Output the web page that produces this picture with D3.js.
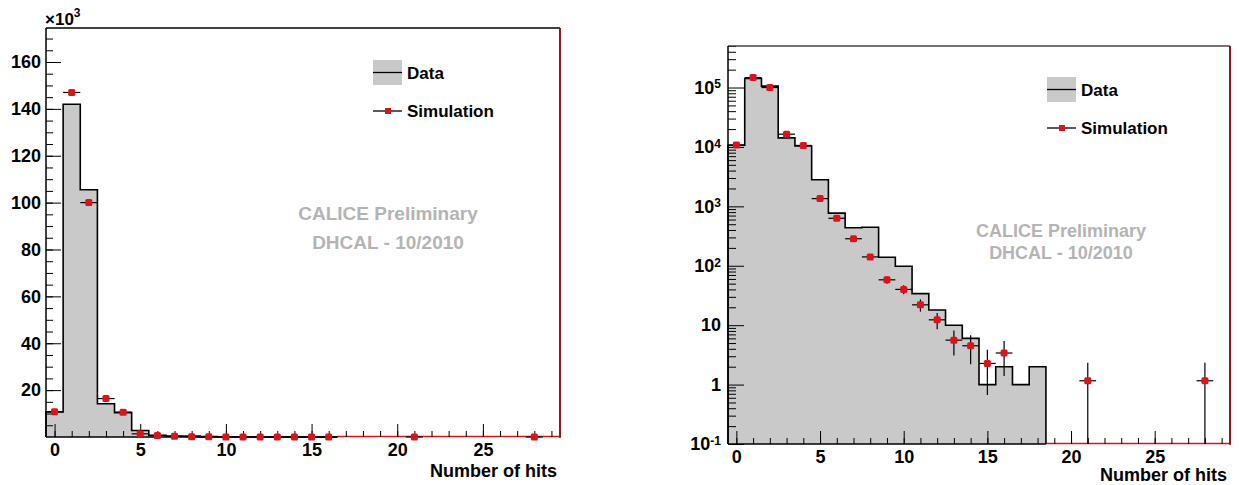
<!DOCTYPE html>
<html>
<head>
<meta charset="utf-8">
<script src="https://cdn.jsdelivr.net/npm/d3@7"></script>
<style>
body { margin: 0; background: #fff; }
svg text { font-family: "Liberation Sans", Arial, sans-serif; font-weight: bold; }
</style>
</head>
<body>
<script>
/** Declare data */
const hitBins = [0, 1, 2, 3, 4, 5, 6, 7, 8, 9, 10, 11, 12, 13, 14, 15, 16, 17, 18, 19, 20, 21, 22, 23, 24, 25, 26, 27, 28, 29];
const dataCounts = [10700, 142000, 105500, 14200, 10400, 2800, 770, 436, 446, 139, 98, 34, 18, 10, 6, 1, 2, 1, 2, 0, 0, 0, 0, 0, 0, 0, 0, 0, 0, 0];
const simBins = [0, 1, 2, 3, 4, 5, 6, 7, 8, 9, 10, 11, 12, 13, 14, 15, 16, 21, 28];
const simCounts = [10800, 147000, 100000, 16400, 10600, 1350, 630, 285, 141, 58, 40, 22, 12.3, 5.6, 4.5, 2.27, 3.4, 1.16, 1.16];
const simErrors = [104, 383, 316, 128, 103, 37, 25, 17, 12, 8.2, 6.8, 5.1, 3.8, 2.5, 2.3, 1.6, 2.0, 1.16, 1.16];
const xTicks = [0, 5, 10, 15, 20, 25];
const linTicks = [20, 40, 60, 80, 100, 120, 140, 160];
const logTicks = [0.1, 1, 10, 100, 1000, 10000, 100000];
const logLabels = [["10", "-1"], ["1", ""], ["10", ""], ["10", "2"], ["10", "3"], ["10", "4"], ["10", "5"]];
const legendLabels = ["Data", "Simulation"];
const stampLines = ["CALICE Preliminary", "DHCAL - 10/2010"];
const xTitle = "Number of hits";

/** Declare constants */
const width = 1239;
const height = 485;
const fillGray = "#c9c9c9";
const simRed = "#d8151d";
const frameRed = "#8a1a1a";

const panels = [
    { left: 46, right: 560, top: 28, bottom: 437, log: false, yMax: 174.5, lastBin: 16,
      legendX: 373, legendY: 60, stampX: 388, stampY: [220, 249], stampSize: 19, titleY: 477, topColor: "#000" },
    { left: 728, right: 1230, top: 46, bottom: 444, log: true, yMax: 5e5, lastBin: 18,
      legendX: 1047, legendY: 77, stampX: 1061, stampY: [237, 259], stampSize: 18, titleY: 481, topColor: "#444" }
];

var svg = d3.select("body").append("svg")
    .attr("width", width)
    .attr("height", height);

function drawPanel(p) {
    const g = svg.append("g");
    const x = d3.scaleLinear().domain([-0.5, 29.5]).range([p.left, p.right]);
    const y = p.log
        ? d3.scaleLog().domain([0.1, p.yMax]).range([p.bottom, p.top])
        : d3.scaleLinear().domain([0, p.yMax]).range([p.bottom, p.top]);
    // linear panel is in units of 10^3, log panel clamps zero to the floor
    const yv = (v) => p.log ? y(Math.max(v, 0.1)) : y(Math.max(v, 0) / 1000);

    // data histogram
    const pts = [[x(-0.5), p.bottom]];
    for (let i = 0; i <= p.lastBin; i++) {
        pts.push([x(hitBins[i] - 0.5), yv(dataCounts[i])]);
        pts.push([x(hitBins[i] + 0.5), yv(dataCounts[i])]);
    }
    pts.push([x(hitBins[p.lastBin] + 0.5), p.bottom]);
    g.append("path").attr("d", d3.line()(pts) + "Z").attr("fill", fillGray);
    g.append("line")
        .attr("x1", x(hitBins[p.lastBin] + 0.5)).attr("x2", x(29.5))
        .attr("y1", p.bottom - 0.5).attr("y2", p.bottom - 0.5)
        .attr("stroke", simRed).attr("stroke-width", 1.5);
    g.append("path").attr("d", d3.line()(pts))
        .attr("fill", "none").attr("stroke", "#000").attr("stroke-width", 1.6);

    // axes - ROOT style ticks pointing inside
    const xMinor = g.append("g").attr("transform", "translate(0," + p.bottom + ")")
        .call(d3.axisBottom(x).tickValues(hitBins).tickSize(-6).tickFormat(""));
    const xMajor = g.append("g").attr("transform", "translate(0," + p.bottom + ")")
        .call(d3.axisBottom(x).tickValues(xTicks).tickSize(-13).tickPadding(6).tickFormat(d3.format("d")));

    let yMinor, yMajor;
    if (p.log) {
        const minors = [];
        logTicks.forEach((d) => {
            for (let k = 2; k <= 9; k++) if (d * k <= p.yMax) minors.push(d * k);
        });
        yMinor = g.append("g").attr("transform", "translate(" + p.left + ",0)")
            .call(d3.axisLeft(y).tickValues(minors).tickSize(-8).tickFormat(""));
        yMajor = g.append("g").attr("transform", "translate(" + p.left + ",0)")
            .call(d3.axisLeft(y).tickValues(logTicks).tickSize(-16).tickPadding(7).tickFormat(""));
        yMajor.selectAll(".tick text").each(function (d, i) {
            const t = d3.select(this);
            t.append("tspan").text(logLabels[i][0]);
            if (logLabels[i][1]) {
                t.append("tspan").attr("font-size", 12).attr("dy", "-0.45em").text(logLabels[i][1]);
            }
        });
    } else {
        yMinor = g.append("g").attr("transform", "translate(" + p.left + ",0)")
            .call(d3.axisLeft(y).tickValues(d3.range(5, p.yMax, 5)).tickSize(-7).tickFormat(""));
        yMajor = g.append("g").attr("transform", "translate(" + p.left + ",0)")
            .call(d3.axisLeft(y).tickValues(linTicks).tickSize(-15).tickPadding(5).tickFormat(d3.format("d")));
        // x10^3 multiplier
        const m = g.append("text").attr("x", p.left - 1).attr("y", 25).attr("font-size", 17);
        m.append("tspan").text("\u00d710");
        m.append("tspan").attr("font-size", 12).attr("dy", -8).text("3");
    }
    [xMinor, xMajor, yMinor, yMajor].forEach((a) => {
        a.select(".domain").remove();
        a.attr("font-size", 18).attr("font-family", null);
        a.selectAll(".tick line").attr("stroke", "#000");
        a.selectAll(".tick text").attr("fill", "#000");
    });

    // frame
    g.append("line").attr("x1", p.left).attr("x2", p.right).attr("y1", p.top).attr("y2", p.top)
        .attr("stroke", p.topColor).attr("stroke-width", 1.5);
    g.append("line").attr("x1", p.left).attr("x2", p.left).attr("y1", p.top).attr("y2", p.bottom)
        .attr("stroke", "#000").attr("stroke-width", 1.5);
    g.append("line").attr("x1", p.left).attr("x2", x(hitBins[p.lastBin] + 0.5)).attr("y1", p.bottom).attr("y2", p.bottom)
        .attr("stroke", "#000").attr("stroke-width", 1.5);
    g.append("line").attr("x1", p.right).attr("x2", p.right).attr("y1", p.top).attr("y2", p.bottom + 0.75)
        .attr("stroke", frameRed).attr("stroke-width", 2);

    // simulation points with error bars
    const sim = g.append("g");
    simBins.forEach((b, i) => {
        const v = simCounts[i];
        const cy = yv(v);
        sim.append("line")
            .attr("x1", x(b - 0.5)).attr("x2", x(b + 0.5))
            .attr("y1", cy).attr("y2", cy)
            .attr("stroke", "#000").attr("stroke-width", 1.2);
        sim.append("line")
            .attr("x1", x(b)).attr("x2", x(b))
            .attr("y1", yv(v - simErrors[i])).attr("y2", yv(v + simErrors[i]))
            .attr("stroke", "#000").attr("stroke-width", 1.2);
        sim.append("rect")
            .attr("x", x(b) - 3.5).attr("y", cy - 3.5)
            .attr("width", 7).attr("height", 7).attr("rx", 1.5)
            .attr("fill", simRed);
    });

    // legend
    const lg = g.append("g").attr("transform", "translate(" + p.legendX + "," + p.legendY + ")");
    lg.append("rect").attr("width", 29).attr("height", 25).attr("fill", fillGray);
    lg.append("line").attr("x1", 0).attr("x2", 29).attr("y1", 12.5).attr("y2", 12.5)
        .attr("stroke", "#000").attr("stroke-width", 1.3);
    lg.append("line").attr("x1", 0).attr("x2", 29).attr("y1", 51).attr("y2", 51)
        .attr("stroke", "#000").attr("stroke-width", 1.3);
    lg.append("rect").attr("x", 12).attr("y", 48).attr("width", 6).attr("height", 6).attr("fill", simRed);
    legendLabels.forEach((l, i) => {
        lg.append("text").attr("x", 34).attr("y", 19 + i * 38)
            .attr("font-size", 17).attr("fill", "#000").text(l);
    });

    // preliminary stamp
    stampLines.forEach((s, i) => {
        g.append("text").attr("x", p.stampX).attr("y", p.stampY[i])
            .attr("text-anchor", "middle").attr("font-size", p.stampSize)
            .attr("fill", "#b4b4b4").text(s);
    });

    // axis title
    g.append("text").attr("x", p.right - 3).attr("y", p.titleY)
        .attr("text-anchor", "end").attr("font-size", 18).attr("fill", "#000").text(xTitle);
}

panels.forEach(drawPanel);
</script>
</body>
</html>
